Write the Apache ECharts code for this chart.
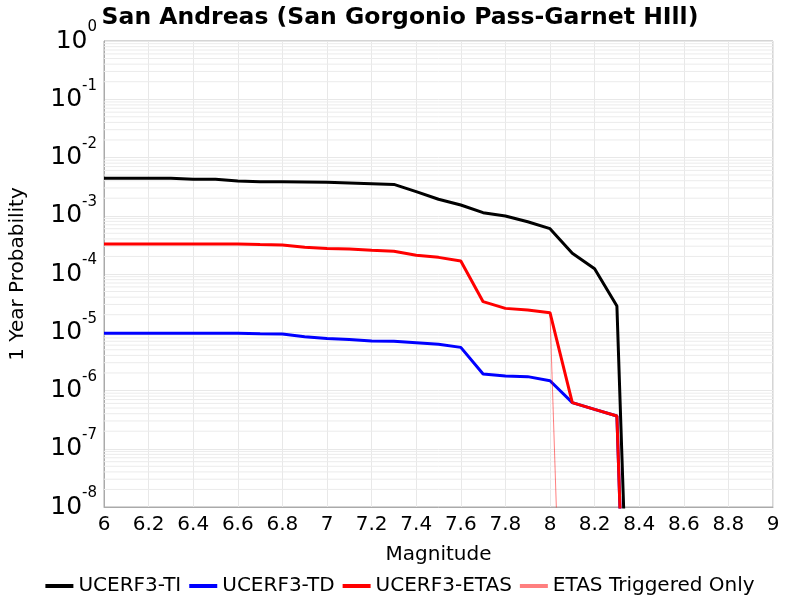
<!DOCTYPE html>
<html>
<head>
<meta charset="utf-8">
<script src="https://cdn.jsdelivr.net/npm/echarts@6/dist/echarts.min.js"></script>
<style>
  html, body { margin: 0; padding: 0; background: #fff; }
  #chart { width: 800px; height: 600px; }
</style>
</head>
<body>
<div id="chart"></div>
<script>
// magnitudes (x) and 1-year probabilities
var magnitudes = [6.0, 6.1, 6.2, 6.3, 6.4, 6.5, 6.6, 6.7, 6.8, 6.9, 7.0, 7.1, 7.2,
  7.3, 7.4, 7.5, 7.6, 7.7, 7.8, 7.9, 8.0, 8.1, 8.2, 8.3, 8.4]

var ucerf3TI = [4.4e-3, 4.4e-3, 4.4e-3, 4.4e-3, 4.22e-3, 4.22e-3, 3.95e-3, 3.85e-3, 3.85e-3, 3.8e-3,
  3.75e-3, 3.65e-3, 3.55e-3, 3.45e-3, 2.59e-3, 1.92e-3, 1.53e-3, 1.13e-3, 9.9e-4, 7.9e-4,
  6.0e-4, 2.27e-4, 1.23e-4, 2.82e-5, 1e-16]

var ucerf3TD = [9.6e-6, 9.6e-6, 9.6e-6, 9.6e-6, 9.6e-6, 9.6e-6, 9.6e-6, 9.4e-6, 9.3e-6, 8.4e-6,
  7.8e-6, 7.5e-6, 7.1e-6, 7.0e-6, 6.6e-6, 6.2e-6, 5.5e-6, 1.92e-6, 1.77e-6, 1.73e-6,
  1.47e-6, 6.2e-7, 4.75e-7, 3.65e-7, 1e-18]

var ucerf3ETAS = [3.27e-4, 3.27e-4, 3.27e-4, 3.27e-4, 3.27e-4, 3.27e-4, 3.27e-4, 3.2e-4, 3.15e-4, 2.87e-4,
  2.75e-4, 2.69e-4, 2.55e-4, 2.45e-4, 2.1e-4, 1.93e-4, 1.67e-4, 3.35e-5, 2.57e-5, 2.41e-5,
  2.17e-5, 6.2e-7, 4.75e-7, 3.65e-7, 1e-18]

var etasTriggered = [3.27e-4, 3.27e-4, 3.27e-4, 3.27e-4, 3.27e-4, 3.27e-4, 3.27e-4, 3.2e-4, 3.15e-4, 2.87e-4,
  2.75e-4, 2.69e-4, 2.55e-4, 2.45e-4, 2.1e-4, 1.93e-4, 1.67e-4, 3.35e-5, 2.57e-5, 2.41e-5,
  2.17e-5, 4e-17]

var seriesNames = ['UCERF3-TI', 'UCERF3-TD', 'UCERF3-ETAS', 'ETAS Triggered Only']
var seriesColors = ['#000000', '#0000ff', '#ff0000', 'rgba(255,0,0,0.5)']

function pairs(ys) {
  return ys.map(function(y, i) {
    return [magnitudes[i], y]
  })
}

// log minor grid (2..9 x 10^n) as one broken line, the log axis only splits at decades
var minorGrid = []
for (var e = -8; e < 0; e++) {
  for (var k = 2; k <= 9; k++) {
    var v = k * Math.pow(10, e)
    minorGrid.push([6, v], [9, v], [9, '-'])
  }
}

var font = 'DejaVu Sans'
var chart = echarts.init(document.getElementById('chart'), null, { renderer: 'canvas' })

function lineSeries(name, ys, color, width, z) {
  return {
    name: name,
    type: 'line',
    data: pairs(ys),
    symbol: 'none',
    clip: true,
    z: z,
    color: color,
    itemStyle: { color: color },
    lineStyle: { color: color, width: width }
  }
}

chart.setOption({
  animation: false,
  textStyle: { fontFamily: font },
  title: {
    text: 'San Andreas (San Gorgonio Pass-Garnet HIll)',
    left: 'center',
    top: 1,
    textStyle: { fontFamily: font, fontSize: 23.5, fontWeight: 'bold', color: '#000' }
  },
  legend: {
    top: 571,
    left: 'center',
    itemWidth: 28,
    itemHeight: 4,
    itemGap: 8,
    textStyle: { fontFamily: font, fontSize: 20, color: '#000' },
    data: seriesNames.map(function(n, i) {
      return { name: n, icon: 'rect', itemStyle: { color: seriesColors[i] } }
    })
  },
  grid: {
    left: 100,
    right: 27,
    top: 41,
    bottom: 93,
    show: true,
    borderColor: '#aaaaaa',
    borderWidth: 1,
    backgroundColor: '#fff'
  },
  xAxis: {
    type: 'value',
    min: 6,
    max: 9,
    interval: 0.2,
    name: 'Magnitude',
    nameLocation: 'middle',
    nameGap: 38,
    nameTextStyle: { fontFamily: font, fontSize: 20, color: '#000' },
    axisLine: { lineStyle: { color: '#aaaaaa' } },
    axisTick: { show: false },
    axisLabel: { fontFamily: font, fontSize: 20, color: '#000', margin: 8, hideOverlap: false },
    splitLine: { show: true, lineStyle: { color: '#e8e8e8', width: 1 } }
  },
  yAxis: {
    type: 'log',
    logBase: 10,
    min: 1e-8,
    max: 1,
    splitNumber: 8,
    name: '1 Year Probability',
    nameLocation: 'middle',
    nameGap: 76,
    nameTextStyle: { fontFamily: font, fontSize: 20, color: '#000' },
    axisLine: { lineStyle: { color: '#aaaaaa' } },
    axisTick: { show: false },
    axisLabel: {
      margin: 7,
      formatter: function(v) {
        var p = Math.round(Math.log(v) / Math.LN10)
        return '{b|10}{s|' + p + '}'
      },
      rich: {
        b: { fontFamily: font, fontSize: 25, color: '#000', lineHeight: 42, verticalAlign: 'middle' },
        s: { fontFamily: font, fontSize: 15, color: '#000', lineHeight: 15, verticalAlign: 'top' }
      }
    },
    splitLine: { show: true, lineStyle: { color: '#e8e8e8', width: 1 } }
  },
  series: [
    {
      name: 'minor-grid',
      type: 'line',
      data: minorGrid,
      symbol: 'none',
      silent: true,
      connectNulls: false,
      z: 1,
      lineStyle: { color: '#ececec', width: 1 }
    },
    lineSeries('UCERF3-TI', ucerf3TI, seriesColors[0], 3, 3),
    lineSeries('UCERF3-TD', ucerf3TD, seriesColors[1], 3, 4),
    lineSeries('UCERF3-ETAS', ucerf3ETAS, seriesColors[2], 3, 5),
    lineSeries('ETAS Triggered Only', etasTriggered, seriesColors[3], 1, 6)
  ]
})
</script>
</body>
</html>
